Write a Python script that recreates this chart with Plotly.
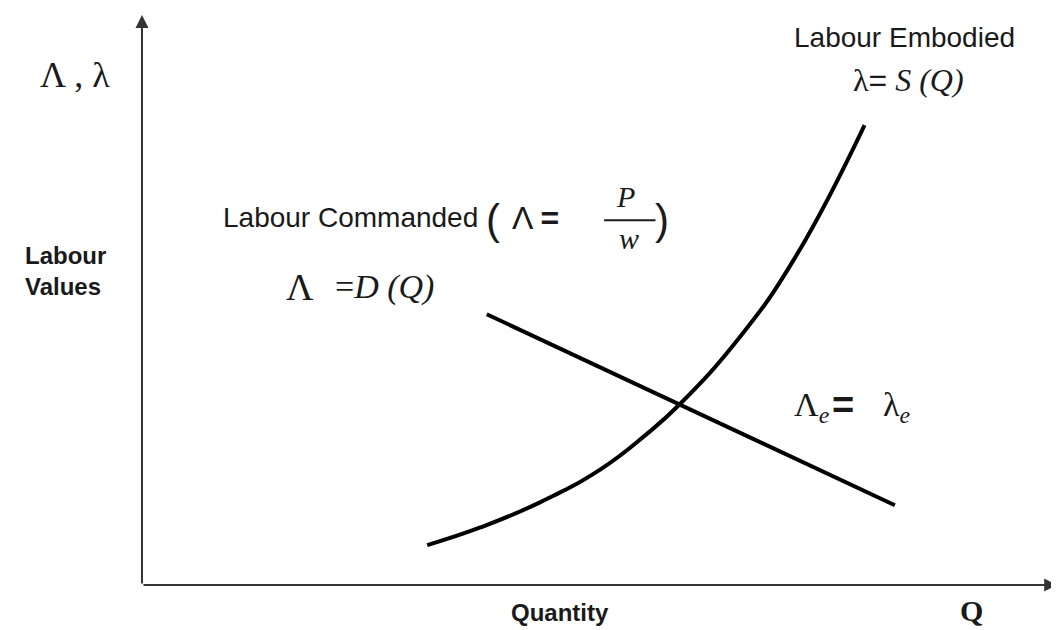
import plotly.graph_objects as go

# Labour embodied (supply) curve
supply_q = [3.11, 3.69, 4.34, 5.00, 5.49, 5.87, 6.52, 7.12, 7.88]
supply_v = [0.70, 1.01, 1.45, 2.03, 2.63, 3.18, 4.35, 5.74, 8.07]

# Labour commanded (demand) line
demand_q = [3.76, 8.21]
demand_v = [4.75, 1.40]

SANS = "Liberation Sans, Arial, sans-serif"
SERIF = "Liberation Serif, Times New Roman, serif"
INK = "#1a1a1a"

fig = go.Figure()

fig.add_trace(
    go.Scatter(
        x=supply_q,
        y=supply_v,
        mode="lines",
        line=dict(color="black", width=4, shape="spline", smoothing=1.3),
        name="Labour Embodied",
    )
)

fig.add_trace(
    go.Scatter(
        x=demand_q,
        y=demand_v,
        mode="lines",
        line=dict(color="black", width=4),
        name="Labour Commanded",
    )
)

# axes with arrow heads
fig.add_annotation(
    x=0, y=10.0, ax=0, ay=0, xref="x", yref="y", axref="x", ayref="y",
    showarrow=True, arrowhead=2, arrowsize=1.3, arrowwidth=2, arrowcolor="#333", text="",
)
fig.add_annotation(
    x=9.98, y=0, ax=0, ay=0, xref="x", yref="y", axref="x", ayref="y",
    showarrow=True, arrowhead=2, arrowsize=1.3, arrowwidth=2, arrowcolor="#333", text="",
)


def label(x, y, text, font, size, bold=False, align="center"):
    fig.add_annotation(
        x=x, y=y, xref="x", yref="y", text=text, showarrow=False,
        font=dict(family=font, size=size, color=INK,
                  weight="bold" if bold else "normal"),
        align=align,
    )


label(-0.73, 8.95, "Λ , λ", SERIF, 36)
label(-0.83, 5.51, "Labour<br>Values", SANS, 24, bold=True, align="left")
label(8.32, 9.60, "Labour Embodied", SANS, 28)
label(8.36, 8.86, "λ<span style='font-family:Liberation Sans'>=</span> <i>S (Q)</i>", SERIF, 32)
label(2.27, 6.44, "Labour Commanded", SANS, 28)
label(3.83, 6.42, "(", SANS, 42)
label(4.29, 6.44, "Λ <b>=</b>", SANS, 32)
label(5.27, 6.82, "<i>P</i>", SERIF, 30)
label(5.31, 6.08, "<i>w</i>", SERIF, 30)
label(5.67, 6.42, ")", SANS, 42)
label(1.72, 5.23, "Λ", SERIF, 38)
label(2.64, 5.23, "=<i>D (Q)</i>", SERIF, 34)
label(7.31, 3.13, "Λ<sub><i>e</i></sub>", SERIF, 34)
label(7.64, 3.15, "<b>=</b>", SANS, 38)
label(8.23, 3.13, "λ<sub><i>e</i></sub>", SERIF, 34)
label(4.56, -0.49, "Quantity", SANS, 24, bold=True)
label(9.05, -0.44, "<b>Q</b>", SERIF, 30)

# fraction bar of P / w
fig.add_shape(type="line", x0=5.04, x1=5.60, y0=6.40, y1=6.40,
              xref="x", yref="y", line=dict(color=INK, width=2))

# the page body has an 8px margin, so the figure is 8px smaller and the ranges
# are shifted to keep the origin where the reference has it
fig.update_layout(
    width=1051,
    height=622,
    margin=dict(l=0, r=0, t=0, b=0),
    paper_bgcolor="white",
    plot_bgcolor="white",
    showlegend=False,
    xaxis=dict(range=[-1.461, 10.0], visible=False),
    yaxis=dict(range=[-0.789, 10.123], visible=False),
)

fig.write_html("out.html")
